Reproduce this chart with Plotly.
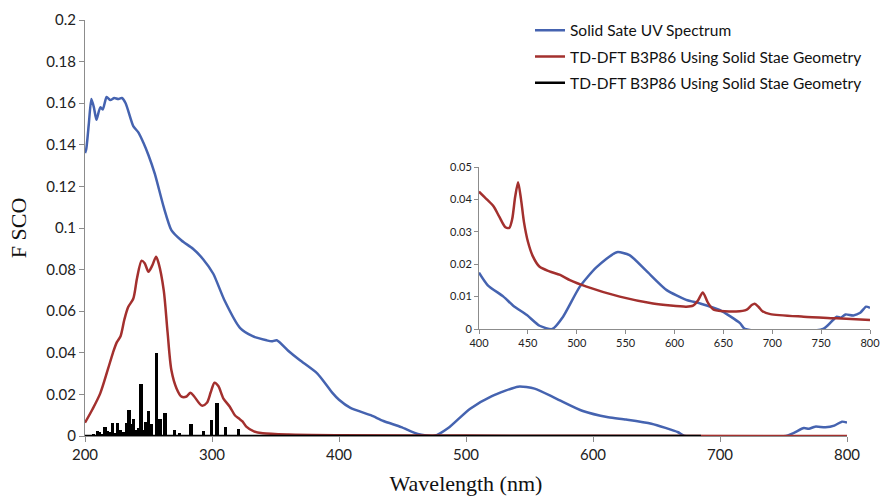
import plotly.graph_objects as go

# ---------------- data ----------------
blue_x = [200, 201, 203, 205, 207, 209, 212, 214, 217, 220, 223, 226, 229, 232, 238, 242, 246, 250,
          255, 262, 268, 276, 285, 293, 301, 310, 322, 332, 343, 347, 351, 360, 369, 383, 395, 400,
          409, 425, 435, 449, 462, 475, 486, 503, 520, 541, 554, 571, 592, 612, 626, 646, 667, 672,
          752, 766, 770, 775, 783, 790, 796, 800]
blue_y = [0.136, 0.138, 0.150, 0.162, 0.158, 0.152, 0.158, 0.157, 0.163, 0.1615, 0.1625, 0.162, 0.1625,
          0.160, 0.149, 0.146, 0.141, 0.135, 0.126, 0.110, 0.099, 0.094, 0.090, 0.085, 0.078, 0.065,
          0.052, 0.048, 0.046, 0.0455, 0.046, 0.041, 0.0365, 0.030, 0.0206, 0.0174, 0.0135, 0.010,
          0.0072, 0.0043, 0.001, 0.0, 0.0038, 0.013, 0.019, 0.0237, 0.0228, 0.018, 0.012, 0.009,
          0.0079, 0.0059, 0.0018, 0.0, 0.0, 0.0038, 0.0035, 0.0045, 0.0042, 0.005, 0.0069, 0.0065]

red_x = [200, 206, 212, 218, 222, 225, 228, 231, 234, 238, 241, 244.6, 247, 250, 253, 256, 258, 262,
         265, 268, 272, 276, 280, 283, 286, 292, 296, 299, 302, 305, 309, 314, 318, 321, 324, 327,
         333, 340, 360, 400, 500, 600, 800]
red_y = [0.0064, 0.013, 0.0205, 0.032, 0.040, 0.045, 0.048, 0.056, 0.062, 0.066, 0.076, 0.0843, 0.083,
         0.079, 0.082, 0.0862, 0.083, 0.070, 0.050, 0.0317, 0.023, 0.0189, 0.019, 0.0208, 0.019, 0.0146,
         0.016, 0.021, 0.0256, 0.024, 0.018, 0.0141, 0.010, 0.0085, 0.007, 0.0045, 0.0022, 0.0013,
         0.0007, 0.0004, 0.0002, 0.0001, 0.0]

stick_x = [207, 209.7, 211, 213, 215.7, 218, 220, 221.8, 224, 225.4, 228, 230, 232.8, 234.6, 236, 238,
           240, 242, 244.1, 246.7, 248, 249.9, 252, 256.2, 259, 263, 270.7, 274.5, 283.5, 293,
           299.7, 304, 310.8, 320.7]
stick_y = [0.0012, 0.0026, 0.0018, 0.0012, 0.0045, 0.0025, 0.002, 0.0064, 0.0015, 0.0064, 0.003,
           0.0018, 0.0064, 0.0125, 0.006, 0.008, 0.003, 0.004, 0.025, 0.003, 0.0069, 0.0122, 0.0058,
           0.0397, 0.0083, 0.011, 0.003, 0.0016, 0.006, 0.0024, 0.0077, 0.016, 0.0042, 0.0035]
stick_base_x = [200, 685]
stick_base_y = [0, 0]

inset_red_x = [400, 408, 415, 421, 427, 431, 434, 437, 440, 443, 446, 450, 455, 462, 472, 483, 493, 510,
               544, 578, 612, 619, 624, 629, 634, 640, 663, 674, 679, 682, 686, 690, 698, 732, 766, 800]
inset_red_y = [0.0424, 0.0400, 0.0378, 0.0345, 0.0314, 0.0312, 0.0340, 0.0408, 0.0453, 0.0400,
               0.0330, 0.0270, 0.0225, 0.0192, 0.0178, 0.0167, 0.0151, 0.0131, 0.0100, 0.0079,
               0.0069, 0.0072, 0.0088, 0.0113, 0.0082, 0.0060, 0.0054, 0.0060, 0.0074, 0.0078,
               0.0068, 0.0055, 0.0046, 0.0038, 0.0033, 0.0028]

main_yticks = [0, 0.02, 0.04, 0.06, 0.08, 0.1, 0.12, 0.14, 0.16, 0.18, 0.2]
main_ytext = ["0", "0.02", "0.04", "0.06", "0.08", "0.1", "0.12", "0.14", "0.16", "0.18", "0.2"]
main_xticks = [200, 300, 400, 500, 600, 700, 800]
inset_xticks = [400, 450, 500, 550, 600, 650, 700, 750, 800]
inset_yticks = [0, 0.01, 0.02, 0.03, 0.04, 0.05]
inset_ytext = ["0", "0.01", "0.02", "0.03", "0.04", "0.05"]

names = ["Solid Sate UV Spectrum",
         "TD-DFT B3P86 Using Solid Stae Geometry",
         "TD-DFT B3P86 Using Solid Stae Geometry"]

BLUE = "#4563B0"
RED = "#A3302E"
BLACK = "#000000"
AXIS = "#8C8C8C"
TICKFONT = dict(family="Lato, Carlito, sans-serif", size=15, color="#222222")
SERIF = "Liberation Serif, Times New Roman, serif"

fig = go.Figure()

# main traces
fig.add_trace(go.Scatter(x=blue_x, y=blue_y, mode="lines", name=names[0],
                         line=dict(color=BLUE, width=2.5, shape="spline", smoothing=0.6),
                         legendgroup="a"))
fig.add_trace(go.Scatter(x=red_x, y=red_y, mode="lines", name=names[1],
                         line=dict(color=RED, width=2.5, shape="spline", smoothing=0.8),
                         legendgroup="b"))
fig.add_trace(go.Bar(x=stick_x, y=stick_y, width=2.5, marker=dict(color=BLACK, line=dict(width=0)),
                     showlegend=False, hoverinfo="x+y"))
fig.add_trace(go.Scatter(x=stick_base_x, y=stick_base_y, mode="lines", name=names[2],
                         line=dict(color=BLACK, width=2.5), legendgroup="c"))

# inset traces
inset_bx = [x for x in blue_x if x >= 400]
inset_by = [y for x, y in zip(blue_x, blue_y) if x >= 400]
fig.add_trace(go.Scatter(x=inset_bx, y=inset_by, mode="lines", showlegend=False,
                         line=dict(color=BLUE, width=2.5, shape="spline", smoothing=0.6),
                         xaxis="x2", yaxis="y2"))
fig.add_trace(go.Scatter(x=inset_red_x, y=inset_red_y, mode="lines", showlegend=False,
                         line=dict(color=RED, width=2.5, shape="spline", smoothing=0.7),
                         xaxis="x2", yaxis="y2"))

W_AREA = 790.0
fig.update_layout(
    width=880, height=496,
    margin=dict(l=85, r=5, t=20, b=60),
    plot_bgcolor="white", paper_bgcolor="white",
    bargap=0,
    xaxis=dict(domain=[0, 762 / W_AREA], range=[200, 800], tickvals=main_xticks,
               showgrid=False, zeroline=False, showline=True, linecolor=AXIS, linewidth=1,
               ticks="outside", ticklen=5, tickcolor=AXIS, tickfont=TICKFONT, automargin=False,
               ticklabeloverflow="allow",
               title=dict(text="Wavelength (nm)", standoff=13,
                          font=dict(family=SERIF, size=22, color="#111"))),
    yaxis=dict(domain=[0, 1], range=[0, 0.2], tickvals=main_yticks, ticktext=main_ytext,
               showgrid=False, zeroline=False, showline=True, linecolor=AXIS, linewidth=1,
               ticks="outside", ticklen=5, tickcolor=AXIS, tickfont=TICKFONT, automargin=False,
               title=dict(text="F SCO", standoff=13,
                          font=dict(family=SERIF, size=22, color="#111"))),
    xaxis2=dict(domain=[(479 - 85) / W_AREA, (870 - 85) / W_AREA], range=[400, 800], anchor="y2",
                tickvals=inset_xticks, showgrid=False, zeroline=False, showline=True, linecolor=AXIS,
                linewidth=1, ticks="outside", ticklen=4, tickcolor=AXIS, automargin=False,
                ticklabeloverflow="allow",
                tickfont=dict(family="Lato, sans-serif", size=11, color="#222")),
    yaxis2=dict(domain=[(436 - 329) / 416, (436 - 167) / 416], range=[0, 0.05], anchor="x2",
                tickvals=inset_yticks, ticktext=inset_ytext, showgrid=False, zeroline=False,
                showline=True, linecolor=AXIS, linewidth=1, ticks="outside", ticklen=4, tickcolor=AXIS,
                automargin=False, tickfont=dict(family="Lato, sans-serif", size=11, color="#222")),
    legend=dict(x=(530 - 85) / W_AREA, y=1.015, xanchor="left", yanchor="top",
                traceorder="grouped", tracegroupgap=3,
                font=dict(family="Lato, Carlito, sans-serif", size=15.5, color="#111"),
                bgcolor="rgba(0,0,0,0)"),
)

# remove the browser's default 8px page margin so the 880x496 figure fills the window
fig.write_html("out.html", config={"displayModeBar": False},
               post_script="document.body.style.margin='0';document.body.style.overflow='hidden';")
